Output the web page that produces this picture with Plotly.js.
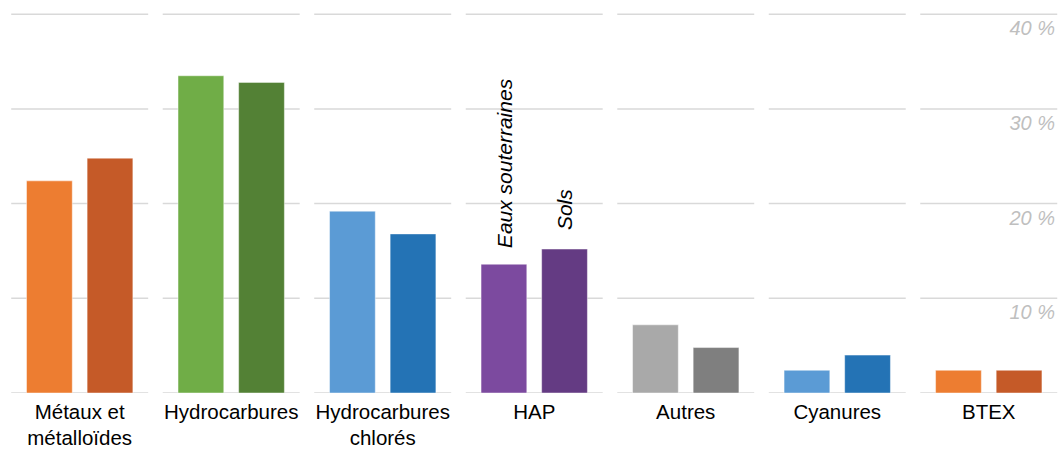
<!DOCTYPE html>
<html>
<head>
<meta charset="utf-8">
<script src="https://cdn.plot.ly/plotly-3.0.1.min.js"></script>
<style>html,body{margin:0;padding:0;background:#fff}#chart{width:1058px;height:450px}</style>
</head>
<body>
<div id="chart"></div>
<script>
const categories = ["Métaux et<br>métalloïdes", "Hydrocarbures", "Hydrocarbures<br>chlorés", "HAP", "Autres", "Cyanures", "BTEX"];
const seriesNames = ["Eaux souterraines", "Sols"];
const eauxValues = [22.4, 33.5, 19.2, 13.6, 7.2, 2.4, 2.4];
const solsValues = [24.8, 32.8, 16.8, 15.2, 4.8, 4.0, 2.4];
const eauxColors = ["#ED7D31", "#70AD47", "#5B9BD5", "#7C4A9F", "#A9A9A9", "#5B9BD5", "#ED7D31"];
const solsColors = ["#C55A28", "#538135", "#2473B5", "#643B83", "#7F7F7F", "#2473B5", "#C55A28"];
const tickValues = [10, 20, 30, 40];
const tickLabels = ["10 %", "20 %", "30 %", "40 %"];
const labelledCategory = 3;

const font = "Liberation Sans, Arial, sans-serif";
const idx = categories.map((c, i) => i);

const traces = [
  {type: "bar", x: idx, y: eauxValues, name: seriesNames[0],
   marker: {color: eauxColors, line: {color: "rgba(255,255,255,0.45)", width: 1}}},
  {type: "bar", x: idx, y: solsValues, name: seriesNames[1],
   marker: {color: solsColors, line: {color: "rgba(255,255,255,0.45)", width: 1}}}
];

// segmented gridlines per category
const shapes = [];
[0].concat(tickValues).forEach(v => {
  idx.forEach(i => {
    shapes.push({type: "line", xref: "x", yref: "y", x0: i - 0.452, x1: i + 0.452, y0: v, y1: v,
      line: {color: "#D9D9D9", width: 1.5}, layer: "below"});
  });
});

const annotations = [
  {xref: "x", yref: "y", x: labelledCategory - 0.2, y: eauxValues[labelledCategory], text: seriesNames[0],
   textangle: -90, xanchor: "center", yanchor: "bottom", yshift: 14, showarrow: false,
   font: {family: font, size: 21, color: "#000", style: "italic"}},
  {xref: "x", yref: "y", x: labelledCategory + 0.2, y: solsValues[labelledCategory], text: seriesNames[1],
   textangle: -90, xanchor: "center", yanchor: "bottom", yshift: 17, showarrow: false,
   font: {family: font, size: 21, color: "#000", style: "italic"}}
];

const layout = {
  width: 1058, height: 450,
  margin: {l: 0, r: 0, t: 0, b: 57},
  paper_bgcolor: "#fff", plot_bgcolor: "#fff",
  barmode: "group", bargap: 0.2, bargroupgap: 0.245,
  showlegend: false,
  font: {family: font, size: 20, color: "#000"},
  xaxis: {type: "linear", range: [-0.526, 6.457], tickvals: idx, ticktext: categories,
    showgrid: false, zeroline: false, showline: false, ticks: "", ticklabelstandoff: 4,
    tickfont: {family: font, size: 20.5, color: "#000"}},
  yaxis: {range: [0, 41.5], side: "right", tickvals: tickValues, ticktext: tickLabels,
    showgrid: false, zeroline: false, showline: false, ticks: "",
    ticklabelposition: "inside bottom",
    tickfont: {family: font, size: 20, color: "#BFBFBF", style: "italic"}},
  shapes: shapes,
  annotations: annotations
};

Plotly.newPlot("chart", traces, layout, {displayModeBar: false, staticPlot: true});
</script>
</body>
</html>
